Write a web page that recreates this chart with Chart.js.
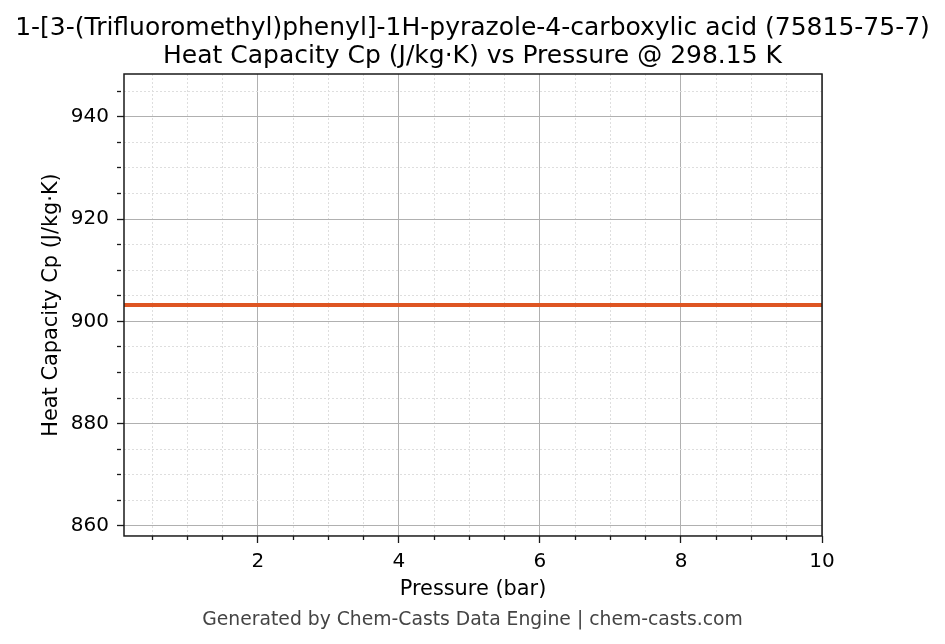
<!DOCTYPE html>
<html>
<head>
<meta charset="utf-8">
<script src="https://cdn.jsdelivr.net/npm/chart.js@4.4.1/dist/chart.umd.min.js"></script>
<style>
  html, body { margin: 0; padding: 0; background: #ffffff; }
  #wrap { width: 945px; height: 644px; }
</style>
</head>
<body>
<div id="wrap"><canvas id="c" width="945" height="644"></canvas></div>
<script>
// ---- data ----
const pressures = [0.1, 0.5, 1, 2, 3, 4, 5, 6, 7, 8, 9, 10];
const heatCapacity = [903.2, 903.2, 903.2, 903.2, 903.2, 903.2, 903.2, 903.2, 903.2, 903.2, 903.2, 903.2];
const xMajorTicks = [2, 4, 6, 8, 10];
const xMinorTicks = [0.5, 1, 1.5, 2.5, 3, 3.5, 4.5, 5, 5.5, 6.5, 7, 7.5, 8.5, 9, 9.5];
const yMajorTicks = [860, 880, 900, 920, 940];
const yMinorTicks = [865, 870, 875, 885, 890, 895, 905, 910, 915, 925, 930, 935, 945];
const xRange = [0.1, 10];
const yRange = [858.04, 948.36];
const titleLines = ['1-[3-(Trifluoromethyl)phenyl]-1H-pyrazole-4-carboxylic acid (75815-75-7)',
                    'Heat Capacity Cp (J/kg\u00b7K) vs Pressure @ 298.15 K'];
const xTitle = 'Pressure (bar)';
const yTitle = 'Heat Capacity Cp (J/kg\u00b7K)';
const footerText = 'Generated by Chem-Casts Data Engine | chem-casts.com';

const FONT = "'DejaVu Sans', 'Liberation Sans', sans-serif";

function isMajor(list, v) { return list.some(m => Math.abs(m - v) < 1e-9); }
function setTicks(major, minor) {
  return function(scale) {
    scale.ticks = major.concat(minor).sort((a, b) => a - b).map(v => ({ value: v }));
  };
}
function gridColor(major) {
  return ctx => (ctx.tick && isMajor(major, ctx.tick.value)) ? '#b0b0b0' : '#dedede';
}
function gridDash(major) {
  return ctx => (!ctx.tick || isMajor(major, ctx.tick.value)) ? [] : [2, 2];
}
function tickDash(major) {
  return ctx => (ctx.tick && isMajor(major, ctx.tick.value)) ? [] : [4, 100];
}

const frame = {
  id: 'frame',
  afterDraw(chart) {
    const a = chart.chartArea, c = chart.ctx;
    c.save();
    c.strokeStyle = '#1a1a1a';
    c.lineWidth = 1.5;
    c.strokeRect(a.left, a.top, a.right - a.left, a.bottom - a.top);
    c.restore();
  }
};

new Chart(document.getElementById('c'), {
  type: 'line',
  data: {
    datasets: [{
      data: pressures.map((p, i) => ({ x: p, y: heatCapacity[i] })),
      borderColor: '#de5522',
      borderWidth: 4,
      pointRadius: 0,
      tension: 0,
      fill: false
    }]
  },
  options: {
    responsive: false,
    animation: false,
    devicePixelRatio: 1,
    layout: { padding: 0 },
    plugins: {
      legend: { display: false },
      tooltip: { enabled: false },
      title: {
        display: true,
        text: titleLines,
        color: '#000',
        font: { family: FONT, size: 25, weight: 'normal', lineHeight: 1.132 },
        padding: { top: 13.85, bottom: 3.55 }
      },
      subtitle: {
        display: true,
        position: 'bottom',
        text: footerText,
        color: '#444444',
        font: { family: FONT, size: 18.77, weight: 'normal', lineHeight: 1.2 },
        padding: { top: 0, bottom: 12.5 }
      }
    },
    scales: {
      x: {
        type: 'linear',
        min: xRange[0], max: xRange[1],
        afterBuildTicks: setTicks(xMajorTicks, xMinorTicks),
        afterFit: s => { s.height = 73; },
        ticks: {
          autoSkip: false, maxRotation: 0, padding: 7, color: '#000',
          font: { family: FONT, size: 20 },
          callback: v => isMajor(xMajorTicks, v) ? String(v) : ''
        },
        grid: {
          color: gridColor(xMajorTicks), lineWidth: 1,
          drawTicks: true, tickLength: 7, tickColor: '#1a1a1a', tickWidth: 1.3,
          tickBorderDash: tickDash(xMajorTicks)
        },
        border: { display: false, dash: gridDash(xMajorTicks) },
        title: {
          display: true, text: xTitle, color: '#000',
          font: { family: FONT, size: 20.86, lineHeight: 1.2 }, padding: { top: 0, bottom: 7 }
        }
      },
      y: {
        type: 'linear',
        position: 'left',
        min: yRange[0], max: yRange[1],
        afterBuildTicks: setTicks(yMajorTicks, yMinorTicks),
        afterFit: s => { s.width = 124; },
        ticks: {
          autoSkip: false, padding: 8, color: '#000',
          font: { family: FONT, size: 20 },
          callback: v => isMajor(yMajorTicks, v) ? String(v) : ''
        },
        grid: {
          color: gridColor(yMajorTicks), lineWidth: 1,
          drawTicks: true, tickLength: 7, tickColor: '#1a1a1a', tickWidth: 1.3,
          tickBorderDash: tickDash(yMajorTicks)
        },
        border: { display: false, dash: gridDash(yMajorTicks) },
        title: {
          display: true, text: yTitle, color: '#000',
          font: { family: FONT, size: 20.86, lineHeight: 1.2 }, padding: { top: 39, bottom: 0 }
        }
      },
      yRightSpace: {
        type: 'linear',
        position: 'right',
        min: 0, max: 1,
        afterFit: s => { s.width = 123; },
        ticks: { display: false },
        grid: { display: false, drawTicks: false },
        border: { display: false },
        title: { display: false }
      }
    }
  },
  plugins: [frame]
});
</script>
</body>
</html>
